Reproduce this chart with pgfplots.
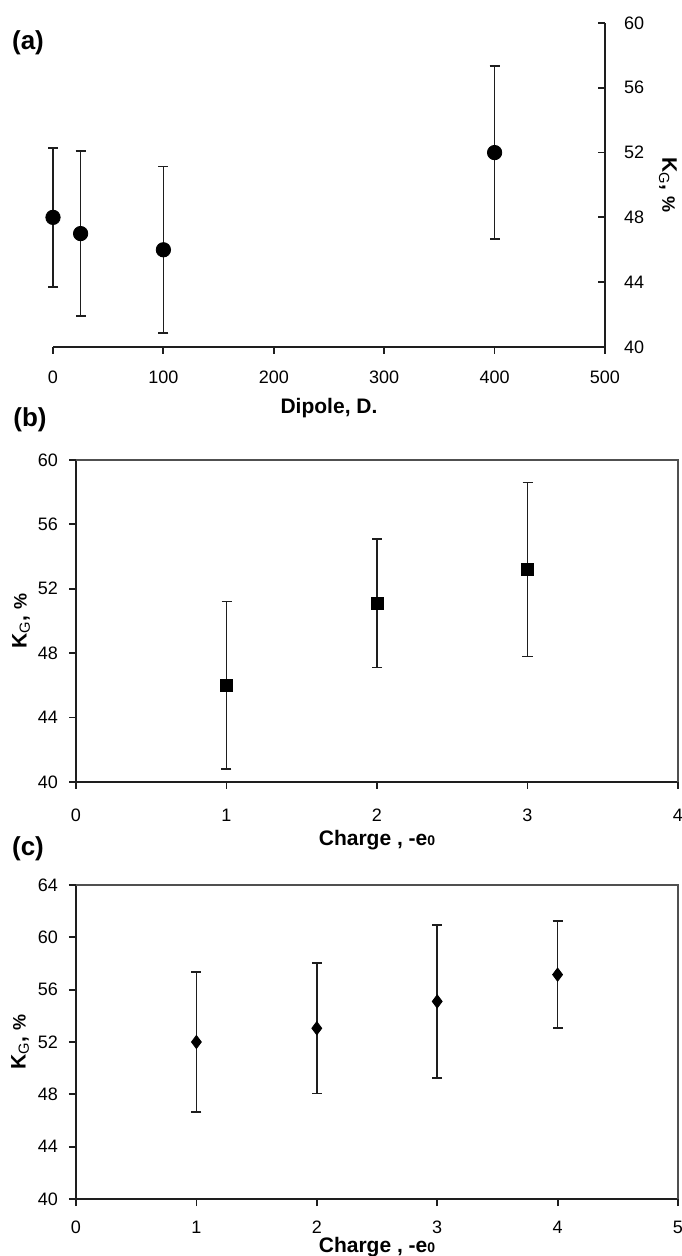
\documentclass[border=0pt]{standalone}
\usepackage{fontspec}
\setmainfont{Liberation Sans}
\usepackage{pgfplots}
\pgfplotsset{compat=1.18}

\definecolor{axisgray}{HTML}{1E1E1E}
\definecolor{framegray}{HTML}{505050}

\pgfplotsset{
  kg/base/.style={
    scale only axis, anchor=south west, clip=false,
    /pgf/number format/assume math mode=true,
    tick label style={font=\fontsize{9}{10}\selectfont},
    every axis label/.append style={font=\fontsize{10.5}{12}\selectfont\bfseries},
    axis line style={draw=axisgray, line width=1pt, -},
    major tick length=3.5pt,
    tick style={draw=axisgray, line width=0.9pt},
  },
  kg/err/.style={
    only marks, draw=axisgray,
    mark options={draw=black, fill=black, solid},
    error bars/y dir=both, error bars/y explicit,
    error bars/error bar style={line width=0.8pt, draw=axisgray},
    error bars/error mark options={rotate=90, line width=0.8pt, mark size=2.5pt, draw=axisgray},
  },
}

\newcommand{\KG}{K\textsubscript{\mdseries G}, {\small\%}}
\newcommand{\charge}{Charge , -e{\scriptsize 0}}

\begin{document}
\begin{tikzpicture}
\useasboundingbox (0,0) rectangle (340.5pt,628pt);

% ---- (a) dipole ----
\begin{axis}[kg/base, at={(26.5pt,454.5pt)}, width=276pt, height=162pt,
  xmin=0, xmax=500, ymin=40, ymax=60,
  axis x line*=bottom, axis y line*=right,
  xtick={0,100,...,500}, ytick={40,44,...,60},
  xtick align=outside, ytick align=inside,
  xticklabel style={yshift=-5pt}, yticklabel style={xshift=6pt},
  xlabel={Dipole, D.}, ylabel={\KG},
  every axis x label/.style={at={(axis description cs:0.5,0)}, yshift=-30.5pt, anchor=center},
  every axis y label/.style={at={(axis description cs:1,0.5)}, xshift=31.5pt, rotate=-90, anchor=center},
]
\addplot[kg/err, mark=*, mark size=3.6pt] coordinates {
  (0,48) +- (0,4.3)
  (25,47) +- (0,5.1)
  (100,46) +- (0,5.15)
  (400,52) +- (0,5.35)
};
\end{axis}

% ---- (b) charge, squares ----
\begin{axis}[kg/base, at={(38pt,237pt)}, width=301pt, height=161pt,
  xmin=0, xmax=4, ymin=40, ymax=60,
  axis lines*=left,
  xtick={0,1,...,4}, ytick={40,44,...,60},
  tick align=outside,
  xticklabel style={yshift=-6.5pt}, yticklabel style={xshift=-2pt},
  xlabel={\charge}, ylabel={\KG},
  every axis x label/.style={at={(axis description cs:0.5,0)}, yshift=-29pt, anchor=center},
  every axis y label/.style={at={(axis description cs:0,0.5)}, xshift=-27.5pt, rotate=90, anchor=center},
]
\draw[framegray, line width=0.7pt] (rel axis cs:0,1) -- (rel axis cs:1,1) -- (rel axis cs:1,0);
\addplot[kg/err, mark=square*, mark size=3pt] coordinates {
  (1,46) +- (0,5.2)
  (2,51.1) +- (0,4.0)
  (3,53.2) +- (0,5.4)
};
\end{axis}

% ---- (c) charge, diamonds ----
\begin{axis}[kg/base, at={(38pt,28.5pt)}, width=301pt, height=157pt,
  xmin=0, xmax=5, ymin=40, ymax=64,
  axis lines*=left,
  xtick={0,1,...,5}, ytick={40,44,...,64},
  tick align=outside,
  xticklabel style={yshift=-4pt}, yticklabel style={xshift=-2pt},
  xlabel={\charge}, ylabel={\KG},
  every axis x label/.style={at={(axis description cs:0.5,0)}, yshift=-24pt, anchor=center},
  every axis y label/.style={at={(axis description cs:0,0.5)}, xshift=-28pt, rotate=90, anchor=center},
]
\draw[framegray, line width=0.7pt] (rel axis cs:0,1) -- (rel axis cs:1,1) -- (rel axis cs:1,0);
\addplot[kg/err, mark=diamond*, mark size=3.3pt] coordinates {
  (1,52) +- (0,5.35)
  (2,53.05) +- (0,5.0)
  (3,55.1) +- (0,5.85)
  (4,57.15) +- (0,4.1)
};
\end{axis}

\node[font=\fontsize{13}{15}\selectfont\bfseries] at (14pt,606.5pt) {(a)};
\node[font=\fontsize{13}{15}\selectfont\bfseries] at (15pt,418pt) {(b)};
\node[font=\fontsize{13}{15}\selectfont\bfseries] at (14pt,203.5pt) {(c)};
\end{tikzpicture}
\end{document}
